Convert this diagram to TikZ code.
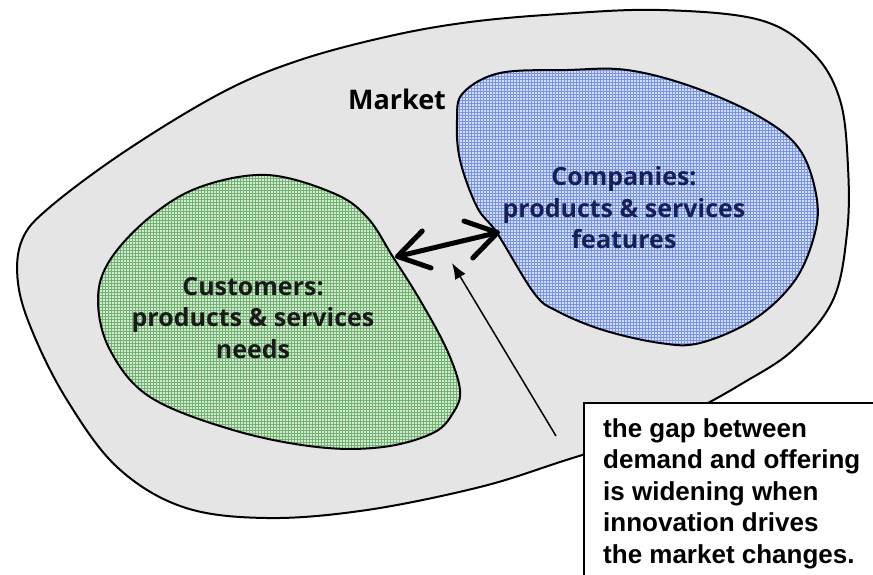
\documentclass[tikz,border=0pt]{standalone}
\usepackage{fontspec}
\usepackage{tikz}
\newfontfamily\blobfont{Open Sans}
\newfontfamily\boxfont{Liberation Sans}
\usetikzlibrary{arrows.meta,calc}
\usetikzlibrary{positioning,patterns}
\definecolor{marketgray}{RGB}{229,229,229}
\definecolor{custbase}{RGB}{212,232,212}
\definecolor{custgrid}{RGB}{112,180,112}
\definecolor{compbase}{RGB}{212,222,248}
\definecolor{compgrid}{RGB}{118,148,238}
\definecolor{compnavy}{RGB}{22,32,82}
\tikzset{
    blobtext/.style={
        font=\blobfont\bfseries\fontsize{25}{31.5}\selectfont,
        align=center,
        inner sep=0pt
    },
}

\begin{document}
\begin{tikzpicture}[x=1pt,y=-1pt]
%% region shapes and text
\tikzstyle{region}=[draw=black,line width=2pt]
\tikzstyle{notebox}=[draw=black,line width=2.5pt,fill=white]
\tikzstyle{bigarrow}=[line width=5pt,line cap=round,{Straight Barb[length=30pt,width=38pt,line cap=round,line join=round]}-{Straight Barb[length=30pt,width=38pt,line cap=round,line join=round]}]
\tikzstyle{thinarrow}=[line width=1.5pt,-{Latex[length=16pt,width=12pt]}]
\useasboundingbox (0,0) rectangle (873,574);
%%%%%%%%%%%%%%%%%%%%%%%%%%%%%%%%%%%%%%%%%%%%%%%%%%%%%%%%%%%%%%%%%%%%%%%%
%MARKET
\draw[region,fill=marketgray] plot[smooth cycle,tension=0.6] coordinates {
  (560,14) (660,10) (760,20) (813,53) (840,100) (848,167) (847,233)
  (833,300) (793,350) (743,383) (690,412) (620,442) (560,462) (480,487)
  (367,510) (267,518) (183,507) (117,467) (67,400) (33,333) (18,283)
  (22,240) (50,207) (127,150) (223,92) (300,60) (390,36) (470,22)};
%CUSTOMERS
\draw[region,preaction={fill=custbase},pattern=grid,pattern color=custgrid]
  plot[smooth cycle,tension=0.6] coordinates {
  (267,175) (333,193) (367,217) (393,257) (420,300) (447,350) (460,390)
  (453,413) (433,433) (383,447) (317,447) (233,430) (150,397) (110,350)
  (98,300) (110,260) (150,217) (200,187)};
%COMPANIES
\draw[region,preaction={fill=compbase},pattern=grid,pattern color=compgrid]
  plot[smooth cycle,tension=0.6] coordinates {
  (567,70) (627,70) (693,87) (760,117) (800,150) (817,200) (813,240)
  (793,283) (753,320) (700,343) (660,343) (603,330) (557,311) (534,293)
  (497,233) (477,207) (460,160) (457,120) (463,93) (500,73)};

%%%%%%%%%%%%%%%%%%%%%%%%%%%%%%%%%%%%%%%%%%%%%%%%%%%%%%%%%%%%%%%%%%%%%%%%
%LABELS
\node[blobtext,font=\blobfont\bfseries\fontsize{27}{31}\selectfont] (market) at (397,99) {Market};
\node[blobtext,text=black!90] (customers) at (253,318) {Customers:\\products \& services\\needs};
\node[blobtext,text=compnavy] (companies) at (624,208) {Companies:\\products \& services\\features};

%NOTE
\draw[notebox] (584,403) rectangle (900,600);
\node[anchor=north west,inner sep=0pt,align=left,
      font=\boxfont\bfseries\fontsize{26}{31.5}\selectfont] (note) at (603,418)
  {the gap between\\demand and offering\\is widening when\\innovation drives\\the market changes.};

%%%%%%%%%%%%%%%%%%%%%%%%%%%%%%%%%%%%%%%%%%%%%%%%%%%%%%%%%%%%%%
%ARROWS
\coordinate (custedge) at (395,257);
\coordinate (compedge) at (500,232);
\coordinate (gaptip) at (452,263);
\coordinate (gaptail) at (556,436);
\draw[bigarrow] (custedge) -- (compedge);
\draw[thinarrow] (gaptail) -- (gaptip);
\end{tikzpicture}
\end{document}
